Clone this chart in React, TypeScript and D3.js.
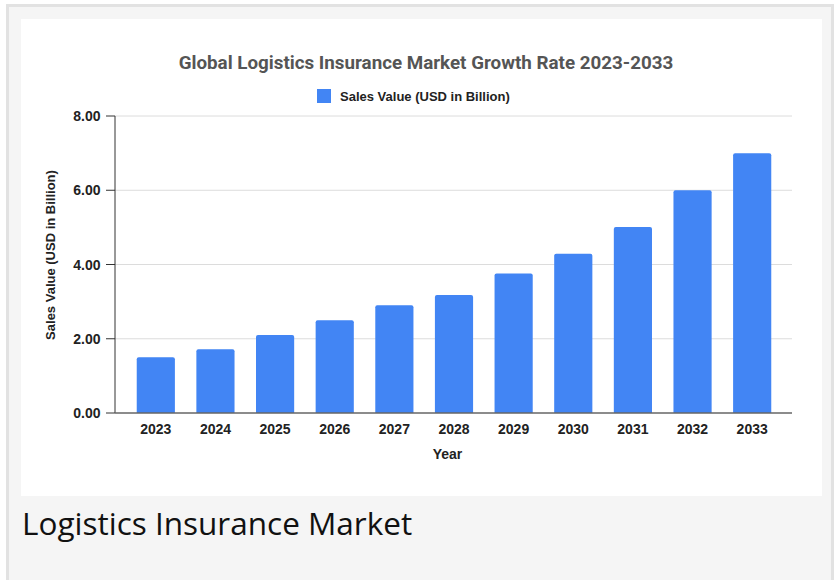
import React from "react";
import * as d3 from "d3";

const years = ["2023","2024","2025","2026","2027","2028","2029","2030","2031","2032","2033"];
const salesValues = [1.5, 1.72, 2.1, 2.5, 2.9, 3.18, 3.76, 4.29, 5.01, 6.0, 7.0];
const yTicks = [0, 2, 4, 6, 8];
const seriesName = "Sales Value (USD in Billion)";
const chartTitle = "Global Logistics Insurance Market Growth Rate 2023-2033";
const caption = "Logistics Insurance Market";

export default function App() {
  const W = 838, H = 580;
  const left = 115, right = 792, top = 116, bottom = 413;
  const y = d3.scaleLinear().domain([0, 8]).range([bottom, top]);
  const x = d3.scaleBand().domain(years).range([126, 782]).paddingInner(0.36).paddingOuter(0.18);
  const bw = x.bandwidth();
  const r = 2;
  const barPath = (xs: number, yt: number, w: number, yb: number) => {
    const p = d3.path();
    p.moveTo(xs, yb);
    p.lineTo(xs, yt + r);
    p.quadraticCurveTo(xs, yt, xs + r, yt);
    p.lineTo(xs + w - r, yt);
    p.quadraticCurveTo(xs + w, yt, xs + w, yt + r);
    p.lineTo(xs + w, yb);
    p.closePath();
    return p.toString();
  };
  const lab = "'Liberation Sans', Arial, sans-serif";
  return (
    <div style={{ position: "absolute", left: 0, top: 0 }}>
      <svg width={W} height={H} style={{ display: "block" }}>
        <rect x={0} y={0} width={W} height={H} fill="#ffffff" />
        <rect x={7.5} y={5.5} width={825} height={H} fill="#f5f5f5" stroke="#e2e2e2" strokeWidth={3} />
        <rect x={21} y={19} width={801} height={477} fill="#ffffff" />
        <text x={426} y={69} textAnchor="middle" fontFamily="Roboto, sans-serif" fontWeight="bold" fontSize={18.8} fill="#555555">{chartTitle}</text>
        <rect x={317} y={89} width={14} height={14} fill="#4285f4" />
        <text x={340} y={101} fontFamily={lab} fontWeight="bold" fontSize={13} fill="#222222">{seriesName}</text>
        {yTicks.map(t => (
          <g key={t}>
            {t > 0 && <line x1={left} x2={right} y1={y(t)} y2={y(t)} stroke="#dcdcdc" strokeWidth={1} />}
            <line x1={left - 9} x2={left} y1={y(t)} y2={y(t)} stroke="#333333" strokeWidth={1} />
            <text x={100.5} y={y(t) + 5} textAnchor="end" fontFamily={lab} fontWeight="bold" fontSize={14} fill="#222222">{t.toFixed(2)}</text>
          </g>
        ))}
        {years.map((yr, i) => (
          <g key={yr}>
            <path d={barPath(x(yr)!, y(salesValues[i]), bw, bottom)} fill="#4285f4" />
            <text x={x(yr)! + bw / 2} y={434} textAnchor="middle" fontFamily={lab} fontWeight="bold" fontSize={14} fill="#222222">{yr}</text>
          </g>
        ))}
        <line x1={left} x2={left} y1={top} y2={bottom} stroke="#333333" strokeWidth={1} />
        <line x1={left} x2={right} y1={bottom} y2={bottom} stroke="#666666" strokeWidth={1.5} />
        <text x={447.5} y={459} textAnchor="middle" fontFamily={lab} fontWeight="bold" fontSize={14} fill="#222222">Year</text>
        <text transform={`translate(55,255) rotate(-90)`} textAnchor="middle" fontFamily={lab} fontWeight="bold" fontSize={13} fill="#222222">{seriesName}</text>
        <text x={22} y={535} fontFamily="'Open Sans', sans-serif" fontSize={31.5} fill="#111111">{caption}</text>
      </svg>
    </div>
  );
}
